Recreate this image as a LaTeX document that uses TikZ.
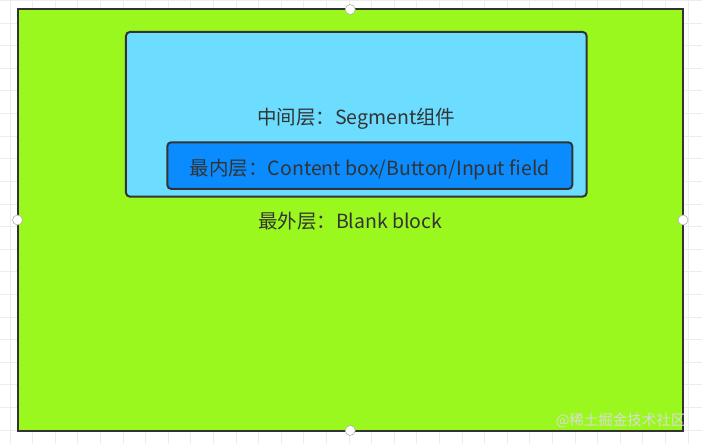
\documentclass[tikz,border=0pt]{standalone}
\usepackage{fontspec}
\setmainfont{Noto Sans CJK SC}
\definecolor{outergreen}{RGB}{155,248,30}
\definecolor{midblue}{RGB}{108,221,255}
\definecolor{innerblue}{RGB}{10,140,255}
\definecolor{framegray}{RGB}{51,51,51}
\definecolor{gridgray}{RGB}{236,236,236}
\tikzset{
    layer/.style={draw=framegray, line width=2pt, inner sep=0pt, outer sep=0pt,
        text=framegray, font=\fontsize{19.5}{19.5}\selectfont,
        text height=19.5pt, text depth=0pt},
    handle/.style={circle, draw=gray!60, fill=white, line width=0.6pt,
        minimum size=10pt, inner sep=0pt}
}
\begin{document}
\begin{tikzpicture}[x=1pt,y=-1pt]
    \useasboundingbox (0,0) rectangle (702,444);
    \fill[white] (0,0) rectangle (702,444);
    \begin{scope}[shift={(10,0.5)}] % background grid
        \draw[gridgray, line width=0.8pt, step=22.6pt] (-10,0) grid (692,444);
    \end{scope}
    \node[layer, fill=outergreen, text height=17pt, minimum width=665.5pt, minimum height=421pt]
        (outer) at (350.25,220) {最外层：Blank block};
    \node[layer, fill=midblue, rounded corners=4pt, minimum width=460.7pt, minimum height=164.7pt]
        (middle) at (356.3,114.3) {中间层：Segment组件};
    \node[layer, fill=innerblue, rounded corners=4pt, minimum width=405pt, minimum height=46.7pt]
        (inner) at (369.8,165.6) {最内层：Content box/Button/Input field};
    \foreach \side in {north,south,east,west}
        \node[handle] (h-\side) at (outer.\side) {};
    \node[anchor=east, text=white!72!gray, font=\fontsize{14.5}{14.5}\selectfont]
        (watermark) at (689,421) {@稀土掘金技术社区};
\end{tikzpicture}
\end{document}
